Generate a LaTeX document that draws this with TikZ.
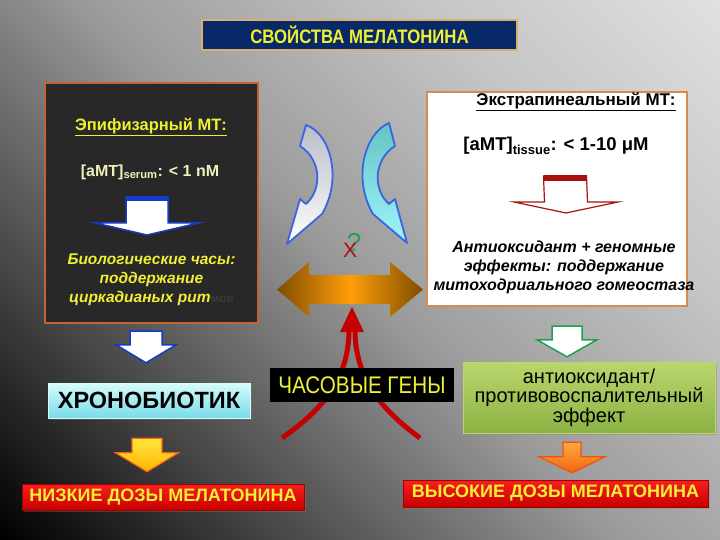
\documentclass[tikz,border=0pt]{standalone}
\usepackage{fontspec}
\setmainfont{Liberation Sans}
\newfontfamily\narrowsf[FakeStretch=0.86]{Liberation Sans}
\usetikzlibrary{calc,shadings,shadows}

% colours of the slide
\definecolor{bgmid}{RGB}{78,78,78}
\definecolor{bgcen}{RGB}{156,156,156}
\definecolor{bghi}{RGB}{196,196,196}
\definecolor{bgtop}{RGB}{224,224,224}
\definecolor{navybox}{RGB}{8,40,104}
\definecolor{tanline}{RGB}{214,178,110}
\definecolor{slideyellow}{RGB}{240,240,50}
\definecolor{paleyellow}{RGB}{240,240,190}
\definecolor{darkpanel}{RGB}{40,40,40}
\definecolor{panelline}{RGB}{196,98,48}
\definecolor{panelline2}{RGB}{214,140,80}
\definecolor{arrowblue}{RGB}{20,60,200}
\definecolor{curveblue}{RGB}{60,100,225}
\definecolor{genred}{RGB}{196,0,0}
\definecolor{darkred}{RGB}{170,16,16}
\definecolor{qgreen}{RGB}{30,160,80}
\definecolor{orangeend}{RGB}{128,76,0}
\definecolor{orangemid}{RGB}{255,158,10}
\definecolor{cyantop}{RGB}{214,252,252}
\definecolor{cyanbot}{RGB}{120,220,232}
\definecolor{greentop}{RGB}{186,214,108}
\definecolor{greenbot}{RGB}{140,178,68}
\definecolor{redtop}{RGB}{250,30,30}
\definecolor{redbot}{RGB}{200,0,0}
\definecolor{yellowtop}{RGB}{255,230,60}
\definecolor{yellowbot}{RGB}{255,180,0}
\definecolor{ambertop}{RGB}{255,170,60}
\definecolor{amberbot}{RGB}{240,100,20}
\definecolor{tealtop}{RGB}{100,196,196}
\definecolor{tealbot}{RGB}{160,244,250}
\definecolor{greytop}{RGB}{186,188,200}
\definecolor{mvgray}{RGB}{58,58,58}

\pgfdeclarehorizontalshading{slidebg}{100bp}{color(0bp)=(black); color(14.6bp)=(black);
  color(32bp)=(bgmid); color(50bp)=(bgcen); color(68bp)=(bghi); color(85.4bp)=(bgtop); color(100bp)=(bgtop)}
\pgfdeclarehorizontalshading{linkshade}{100bp}{color(0bp)=(orangeend); color(25bp)=(orangeend);
  color(50bp)=(orangemid); color(75bp)=(orangeend); color(100bp)=(orangeend)}

\tikzset{
  titlebox/.style={draw=tanline, fill=navybox, line width=1.5pt, text=slideyellow,
    font=\narrowsf\bfseries\fontsize{19.5}{20}\selectfont},
  panel/.style={line width=2pt, inner sep=0pt},
  flatbox/.style={inner sep=2pt, align=center, drop shadow={opacity=0.35, shadow xshift=2pt, shadow yshift=-2pt}},
  dosebox/.style={flatbox, top color=redtop, bottom color=redbot, draw=redbot!80!black,
    text=slideyellow, font=\bfseries\fontsize{18}{20}\selectfont},
  blueblk/.style={fill=white, draw=arrowblue, line width=1.5pt, line join=miter},
  greenblk/.style={fill=white, draw=qgreen, line width=1.5pt},
  yellowblk/.style={top color=yellowtop, bottom color=yellowbot, draw=amberbot, line width=1.2pt},
  amberblk/.style={top color=ambertop, bottom color=amberbot, draw=amberbot!80!red, line width=1.2pt},
  exblk/.style={fill=white, draw=darkred, line width=1.2pt},
  curvl/.style={top color=greytop, bottom color=white, draw=curveblue, line width=1.8pt, line join=round},
  curvr/.style={top color=tealtop, bottom color=tealbot, draw=curveblue, line width=1.8pt, line join=round},
  genline/.style={genred, line width=5pt}
}

% block arrow pointing down: style, top, tip, shaft half, head half, head length
\newcommand{\blockdown}[6]{%
  \path[#1] ([xshift=-#4pt]#2) -- ([xshift=#4pt]#2) -- ([xshift=#4pt,yshift=#6pt]#3)
    -- ([xshift=#5pt,yshift=#6pt]#3) -- (#3) -- ([xshift=-#5pt,yshift=#6pt]#3)
    -- ([xshift=-#4pt,yshift=#6pt]#3) -- cycle;}

\begin{document}
\begin{tikzpicture}[x=1pt,y=-1pt]
\useasboundingbox (0,0) rectangle (720,540);
\shade[shading=slidebg, shading angle=45] (0,0) rectangle (720,540);

\node[titlebox, minimum width=315pt, minimum height=30pt] (title) at (359.5,35) {СВОЙСТВА МЕЛАТОНИНА};

% left panel
\node[panel, draw=panelline, fill=darkpanel, minimum width=213pt, minimum height=240pt] (epi) at (151.5,203) {};
\node[text=slideyellow, font=\bfseries\fontsize{16.5}{18}\selectfont] (epiT) at (151,127) {\underline{Эпифизарный МТ:}};
\node[text=paleyellow, font=\bfseries\fontsize{16}{18}\selectfont] (epiC) at (150,172) {[aMT]\textsubscript{serum}: < 1 nM};
\node[text=slideyellow, align=center, font=\bfseries\itshape\fontsize{15.5}{19}\selectfont] (epiB) at (151.5,280)
  {Биологические часы:\\поддержание\\циркадианых рит{\color{mvgray}\upshape\fontsize{12}{19}\selectfont мов}};
\coordinate (epiA1) at (147,197);
\coordinate (epiA2) at (147,235);
\blockdown{blueblk}{epiA1}{epiA2}{21}{51.5}{12}
\draw[arrowblue, line width=4pt] ([xshift=-21pt,yshift=-2pt]epiA1) -- ([xshift=21pt,yshift=-2pt]epiA1);

% right panel
\node[panel, draw=panelline2, fill=white, minimum width=260pt, minimum height=214pt] (extra) at (557,199) {};
\node[font=\bfseries\fontsize{17}{18}\selectfont] (exT) at (576,102) {\underline{Экстрапинеальный МТ:}};
\node[font=\bfseries\fontsize{18.5}{20}\selectfont] (exC) at (556,146) {[aMT]\textsubscript{tissue}: < 1-10 μM};
\node[align=center, font=\bfseries\itshape\fontsize{16}{19}\selectfont] (exB) at (564,267)
  {Антиоксидант + геномные\\эффекты: поддержание\\митоходриального гомеостаза};
\coordinate (exA1) at (565,176);
\coordinate (exA2) at (566,213);
\blockdown{exblk}{exA1}{exA2}{21.5}{52}{11}
\draw[darkred, line width=6pt] ([xshift=-21.5pt,yshift=-2pt]exA1) -- ([xshift=21.5pt,yshift=-2pt]exA1);

% curved arrows
\shade[curvl] (300,146) -- (306,125) .. controls (330,133) and (343,178) .. (322,214)
  -- (287,244) -- (300,199) -- (306,204) .. controls (322,190) and (322,160) .. cycle;
\shade[curvr] (395,146) -- (389,123) .. controls (365,133) and (352,178) .. (373,214)
  -- (407,243) -- (395,199) -- (389,204) .. controls (373,190) and (373,160) .. cycle;

% double arrow
\shade[shading=linkshade]
  (277,289.5) -- (309,262) -- (309,275) -- (390,275) -- (390,262) -- (423,289.5)
  -- (390,317) -- (390,304) -- (309,304) -- (309,317) -- cycle;
\coordinate (linkB) at (352,304);

\node[text=qgreen, font=\fontsize{26}{26}\selectfont] (qmark) at (354,242) {?};
\node[text=darkred, font=\fontsize{21}{21}\selectfont] (xmark) at (350,250) {X};

% clock genes
\coordinate (gL) at (282,438);
\coordinate (gR) at (420,438);
\coordinate (rh) at (352,332);
\draw[genline] (gL) .. controls (322,410) and (348,380) .. ([xshift=-3pt]rh);
\draw[genline] (gR) .. controls (382,410) and (356,380) .. ([xshift=3pt]rh);
\fill[genred] ([xshift=-12pt]rh) -- ([xshift=12pt]rh) -- ([yshift=-3pt]linkB) -- cycle;
\node[fill=black, minimum width=184pt, minimum height=34pt, inner sep=0pt, text=slideyellow,
  font=\narrowsf\fontsize{24}{24}\selectfont] (genes) at (362,385) {ЧАСОВЫЕ ГЕНЫ};

% lower left
\node[flatbox, top color=cyantop, bottom color=cyanbot, draw=cyantop, minimum width=202pt, minimum height=35pt,
  font=\bfseries\fontsize{23.5}{24}\selectfont] (chrono) at (149,400.5) {ХРОНОБИОТИК};
\node[dosebox, minimum width=282pt, minimum height=26pt] (lowdose) at (163,497) {НИЗКИЕ ДОЗЫ МЕЛАТОНИНА};
\coordinate (bA1) at ([xshift=-5.5pt,yshift=-7pt]epi.south);
\coordinate (bA2) at ([xshift=-3pt,yshift=20pt]chrono.north);
\blockdown{blueblk}{bA1}{bA2}{16}{30}{18}
\coordinate (yA1) at ([xshift=-2pt,yshift=-20pt]chrono.south);
\coordinate (yA2) at ([xshift=-16pt,yshift=12pt]lowdose.north);
\blockdown{yellowblk}{yA1}{yA2}{15}{31.5}{19}

% lower right
\node[flatbox, top color=greentop, bottom color=greenbot, draw=greentop, minimum width=252pt, minimum height=71pt,
  font=\fontsize{20}{19.5}\selectfont] (green) at (589,397.5) {антиоксидант/\\противовоспалительный\\эффект};
\node[dosebox, minimum width=305pt, minimum height=27pt] (highdose) at (555.5,493.5) {ВЫСОКИЕ ДОЗЫ МЕЛАТОНИНА};
\coordinate (gA1) at ([xshift=10pt,yshift=-19pt]extra.south);
\coordinate (gA2) at ([xshift=-22pt,yshift=5pt]green.north);
\blockdown{greenblk}{gA1}{gA2}{15}{30}{17}
\coordinate (oA1) at ([xshift=-17pt,yshift=-9pt]green.south);
\coordinate (oA2) at ([xshift=16.5pt,yshift=7pt]highdose.north);
\blockdown{amberblk}{oA1}{oA2}{9}{33}{16}
\end{tikzpicture}
\end{document}
